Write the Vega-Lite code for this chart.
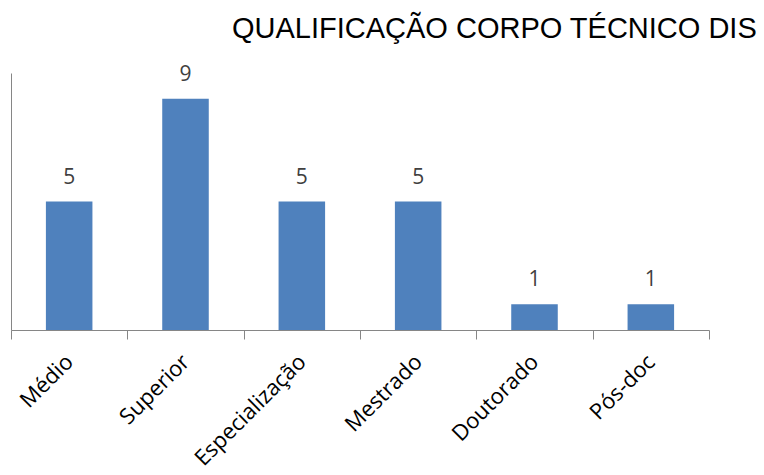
{
  "$schema": "https://vega.github.io/schema/vega-lite/v6.json",
  "width": 698,
  "height": 257,
  "autosize": {"type": "none"},
  "padding": {"left": 11, "top": 73, "right": 55, "bottom": 145},
  "background": "white",
  "title": {
    "text": "QUALIFICAÇÃO CORPO TÉCNICO DIS",
    "anchor": "start",
    "frame": "group",
    "dx": 221,
    "offset": 20,
    "font": "Liberation Sans",
    "fontSize": 29,
    "fontWeight": "normal",
    "color": "#000000"
  },
  "data": {
    "values": [
      {"nivel": "Médio", "qtd": 5},
      {"nivel": "Superior", "qtd": 9},
      {"nivel": "Especialização", "qtd": 5},
      {"nivel": "Mestrado", "qtd": 5},
      {"nivel": "Doutorado", "qtd": 1},
      {"nivel": "Pós-doc", "qtd": 1}
    ]
  },
  "encoding": {
    "x": {
      "field": "nivel",
      "type": "nominal",
      "sort": null,
      "scale": {"paddingInner": 0, "paddingOuter": 0},
      "axis": {
        "title": null,
        "labelAngle": -45,
        "labelAlign": "right",
        "labelBaseline": "middle",
        "labelFont": "Open Sans",
        "labelFontSize": 22,
        "labelColor": "#000000",
        "labelPadding": 19,
        "tickBand": "extent",
        "tickSize": 9,
        "tickColor": "#868686",
        "domainColor": "#868686",
        "grid": false
      }
    },
    "y": {
      "field": "qtd",
      "type": "quantitative",
      "scale": {"domain": [0, 10], "nice": false},
      "axis": {
        "title": null,
        "labels": false,
        "ticks": false,
        "grid": false,
        "domainColor": "#868686"
      }
    }
  },
  "layer": [
    {"mark": {"type": "bar", "color": "#4F81BD", "width": {"band": 0.4}}},
    {
      "mark": {"type": "text", "baseline": "alphabetic", "dy": -18, "font": "Open Sans", "fontSize": 21, "color": "#404040"},
      "encoding": {"text": {"field": "qtd", "type": "quantitative"}}
    }
  ],
  "config": {"view": {"stroke": null}}
}
